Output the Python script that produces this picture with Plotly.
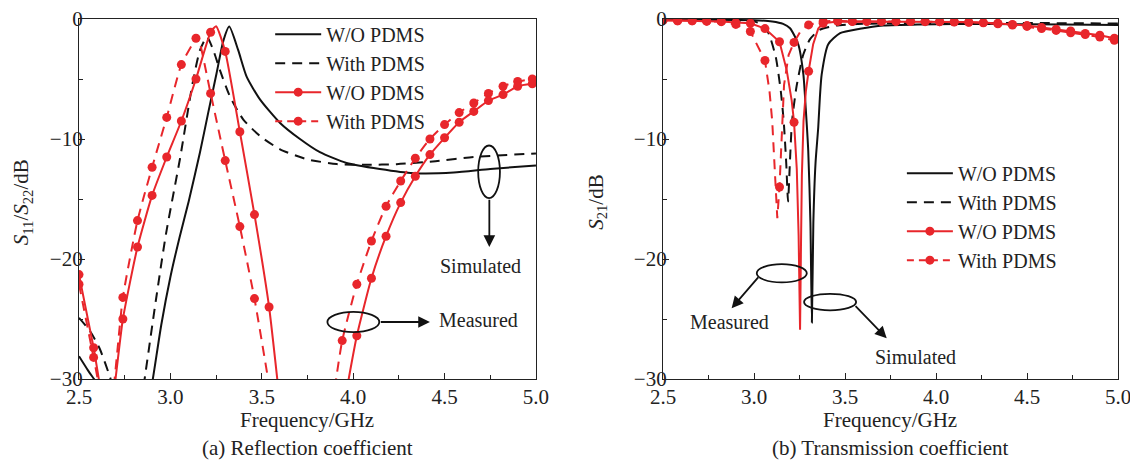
import plotly.graph_objects as go

# ---------------- data ----------------
# marker grid of the measured curves (GHz)
meas_f = [2.50, 2.58, 2.66, 2.74, 2.82, 2.90, 2.98, 3.06, 3.14, 3.22, 3.30, 3.38,
          3.46, 3.54, 3.62, 3.70, 3.78, 3.86, 3.94, 4.02, 4.10, 4.18, 4.26, 4.34,
          4.42, 4.50, 4.58, 4.66, 4.74, 4.82, 4.90, 4.98]

# (a) reflection coefficient, simulated
a_sim_wo_f = [2.50, 2.55, 2.60, 2.62, None, 2.88, 2.904, 2.95, 3.00, 3.05, 3.10, 3.162, 3.207, 3.253,
              3.29, 3.322, 3.371, 3.417, 3.49, 3.60, 3.709, 3.818, 3.964, 4.146, 4.33, 4.55, 4.75, 5.00]
a_sim_wo_db = [-28.1, -29.3, -30.4, -31.0, None, -32.0, -30.0, -25.5, -21.5, -18.2, -15.2, -11.1, -7.8, -4.5,
               -1.8, -0.63, -2.6, -4.8, -6.7, -8.66, -10.0, -11.1, -12.0, -12.5, -12.85, -12.8, -12.5, -12.2]
a_sim_w_f = [2.50, 2.56, 2.614, 2.673, 2.70, None, 2.84, 2.859, 2.92, 2.976, 3.053, 3.122, 3.162,
             3.20, 3.235, 3.271, 3.326, 3.399, 3.49, 3.60, 3.745, 3.91, 4.074, 4.238, 4.45, 4.66, 5.00]
a_sim_w_db = [-24.9, -26.0, -27.5, -30.0, -31.5, None, -32.0, -30.0, -23.5, -17.9, -11.6, -5.3, -2.6,
              -1.5, -2.6, -4.26, -6.46, -8.38, -9.75, -10.86, -11.68, -12.09, -12.15, -12.1, -11.85, -11.5, -11.2]

# (a) reflection coefficient, measured (values at meas_f, None = off the axis)
a_meas_wo_db = [-21.3, -27.4, -34.0, -25.0, -19.0, -14.7, -11.5, -8.5, -5.0, -1.1, -2.7, -9.4,
                -16.3, -24.0, -35.0, None, None, None, -33.0, -26.4, -21.6, -18.1, -15.3, -13.1,
                -11.3, -9.9, -8.6, -7.7, -6.8, -6.3, -5.6, -5.4]
a_meas_w_db = [-22.1, -28.2, -34.0, -23.2, -16.8, -12.35, -8.2, -3.8, -1.6, -6.2, -11.8, -17.3,
               -23.3, -30.5, None, None, None, -35.0, -26.8, -22.1, -18.5, -15.6, -13.5, -11.6,
               -10.0, -8.8, -7.8, -7.0, -6.2, -5.6, -5.2, -5.0]
# extra line points between markers (peaks)
a_meas_wo_extra_f = [3.25]
a_meas_wo_extra_db = [-0.6]
a_meas_w_extra_f = [3.15]
a_meas_w_extra_db = [-1.4]

# (b) transmission coefficient, simulated
b_sim_wo_f = [2.50, 2.90, 3.00, 3.10, 3.16, 3.198, 3.243, 3.271, 3.284, 3.298, 3.31, 3.318,
              3.326, 3.338, 3.353, 3.362, 3.372, 3.408, 3.473, 3.582, 3.71, 3.90, 4.30, 4.70, 5.00]
b_sim_wo_db = [-0.05, -0.08, -0.1, -0.2, -0.4, -0.77, -2.1, -4.6, -7.4, -11.0, -17.0, -25.3,
               -17.0, -12.0, -9.0, -6.5, -4.6, -2.1, -1.18, -0.82, -0.55, -0.45, -0.42, -0.45, -0.5]
b_sim_w_f = [2.50, 2.90, 3.00, 3.06, 3.09, 3.12, 3.147, 3.163, 3.177, 3.187, 3.197, 3.209,
             3.234, 3.27, 3.307, 3.36, 3.45, 3.60, 4.00, 4.50, 5.00]
b_sim_w_db = [-0.05, -0.1, -0.2, -0.6, -1.6, -3.2, -6.0, -8.5, -12.0, -15.2, -12.0, -8.5,
              -5.6, -3.0, -1.7, -0.9, -0.55, -0.4, -0.33, -0.33, -0.38]

# (b) transmission coefficient, measured (values at meas_f)
b_meas_wo_db = [-0.1, -0.15, -0.15, -0.18, -0.2, -0.3, -0.35, -0.8, -1.9, -8.6, -4.35, -0.35,
                -0.2, -0.2, -0.2, -0.2, -0.2, -0.2, -0.2, -0.22, -0.22, -0.25, -0.3, -0.35,
                -0.45, -0.55, -0.7, -0.85, -1.0, -1.2, -1.35, -1.6]
b_meas_w_db = [-0.1, -0.15, -0.15, -0.18, -0.22, -0.45, -1.04, -3.46, -14.0, -1.95, -0.49, -0.2,
               -0.15, -0.2, -0.2, -0.2, -0.2, -0.2, -0.22, -0.22, -0.25, -0.28, -0.32, -0.4,
               -0.5, -0.62, -0.8, -0.95, -1.15, -1.3, -1.5, -1.78]
b_meas_wo_extra_f = [3.18, 3.207, 3.235, 3.245, 3.253, 3.258, 3.263, 3.272, 3.285, 3.325, 3.353]
b_meas_wo_extra_db = [-4.3, -6.8, -12.5, -18.0, -25.9, -19.0, -13.0, -8.5, -6.0, -2.1, -0.8]
b_meas_w_extra_f = [3.085, 3.10, 3.108, 3.12, 3.128, 3.148, 3.152, 3.165, 3.19, 3.26]
b_meas_w_extra_db = [-6.0, -8.5, -11.0, -14.0, -16.6, -11.0, -9.0, -5.5, -3.0, -0.9]

legend_names = ["W/O PDMS", "With PDMS", "W/O PDMS", "With PDMS"]
captions = ["(a) Reflection coefficient", "(b) Transmission coefficient"]
x_title = "Frequency/GHz"
y_titles = ["<i>S</i><sub>11</sub>/<i>S</i><sub>22</sub>/dB", "<i>S</i><sub>21</sub>/dB"]

# ---------------- style ----------------
RED = "#e8262b"
BLACK = "#111111"
FONT = "Liberation Serif"
DASH = "10px,7px"
LW = 2.0
MS = 9


def merged(fs, vs, ef, ev):
    pts = sorted(list(zip(fs, vs)) + list(zip(ef, ev)), key=lambda p: p[0])
    return [p[0] for p in pts], [p[1] for p in pts]


fig = go.Figure()

panels = [
    ("x", "y", "legend", a_sim_wo_f, a_sim_wo_db, a_sim_w_f, a_sim_w_db,
     a_meas_wo_db, a_meas_w_db, a_meas_wo_extra_f, a_meas_wo_extra_db,
     a_meas_w_extra_f, a_meas_w_extra_db, "spline"),
    ("x2", "y2", "legend2", b_sim_wo_f, b_sim_wo_db, b_sim_w_f, b_sim_w_db,
     b_meas_wo_db, b_meas_w_db, b_meas_wo_extra_f, b_meas_wo_extra_db,
     b_meas_w_extra_f, b_meas_w_extra_db, "linear"),
]

for (xa, ya, lg, swf, swd, sf, sd, mwo, mw, ewf, ewd, ef, ed, shape) in panels:
    # simulated
    fig.add_trace(go.Scatter(x=swf, y=swd, mode="lines", xaxis=xa, yaxis=ya,
                             line=dict(color=BLACK, width=LW, shape="spline", smoothing=0.6),
                             showlegend=False, hoverinfo="skip"))
    fig.add_trace(go.Scatter(x=sf, y=sd, mode="lines", xaxis=xa, yaxis=ya,
                             line=dict(color=BLACK, width=LW, dash=DASH, shape="spline", smoothing=0.6),
                             showlegend=False, hoverinfo="skip"))
    # measured lines + markers
    for vals, exf, exd, dash in [(mw, ef, ed, DASH), (mwo, ewf, ewd, "solid")]:
        lx, ly = merged(meas_f, vals, exf, exd)
        fig.add_trace(go.Scatter(x=lx, y=ly, mode="lines", xaxis=xa, yaxis=ya,
                                 line=dict(color=RED, width=LW, dash=dash, shape=shape, smoothing=0.5),
                                 connectgaps=False, showlegend=False, hoverinfo="skip"))
        fig.add_trace(go.Scatter(x=meas_f, y=vals, mode="markers", xaxis=xa, yaxis=ya,
                                 marker=dict(color=RED, size=MS), showlegend=False, hoverinfo="skip"))
    # legend entries
    styles = [
        dict(mode="lines", line=dict(color=BLACK, width=LW)),
        dict(mode="lines", line=dict(color=BLACK, width=LW, dash=DASH)),
        dict(mode="lines+markers", line=dict(color=RED, width=LW), marker=dict(color=RED, size=MS)),
        dict(mode="lines+markers", line=dict(color=RED, width=LW, dash="7px,5px"), marker=dict(color=RED, size=MS)),
    ]
    for name, st in zip(legend_names, styles):
        fig.add_trace(go.Scatter(x=[None], y=[None], name=name, xaxis=xa, yaxis=ya,
                                 legend=lg, showlegend=True, **st))

axis_common = dict(showline=True, linecolor="#222", linewidth=1.3, mirror=True,
                   ticks="inside", ticklen=6, tickwidth=1.3, tickcolor="#222",
                   showgrid=False, zeroline=False, automargin=False, ticklabeloverflow="allow",
                   tickfont=dict(family=FONT, size=21, color="#222"))
xcommon = dict(axis_common, range=[2.5, 5.0], tick0=2.5, dtick=0.5, tickformat=".1f",
               ticklabelstandoff=-1,
               minor=dict(ticks="inside", ticklen=4, tickwidth=1.3, tickcolor="#222", dtick=0.25, tick0=2.5))
ycommon = dict(axis_common, range=[-30, 0], tick0=0, dtick=10, ticklabelstandoff=-9,
               minor=dict(ticks="inside", ticklen=4, tickwidth=1.3, tickcolor="#222", dtick=5, tick0=0))

# page body has an 8px default margin: size the figure so it fits the window
fig.update_layout(
    width=1130, height=455,
    margin=dict(l=71, r=20, t=7, b=84),
    paper_bgcolor="white", plot_bgcolor="white",
    xaxis=dict(xcommon, domain=[0, 0.4398], anchor="y"),
    yaxis=dict(ycommon, domain=[0, 1], anchor="x"),
    xaxis2=dict(xcommon, domain=[0.5621, 1], anchor="y2"),
    yaxis2=dict(ycommon, domain=[0, 1], anchor="x2"),
    legend=dict(x=0.184, y=0.837, xanchor="left", yanchor="middle", bgcolor="rgba(0,0,0,0)",
                font=dict(family=FONT, size=20, color="#222"), itemwidth=46, tracegroupgap=0),
    legend2=dict(x=0.792, y=0.451, xanchor="left", yanchor="middle", bgcolor="rgba(0,0,0,0)",
                 font=dict(family=FONT, size=20, color="#222"), itemwidth=46, tracegroupgap=0),
    showlegend=True,
)

ann_font = dict(family=FONT, size=20, color="#222")
annotations = []
shapes = []

# axis titles and captions
for i, (xc, yt_x) in enumerate([(0.2199, -0.0545), (0.781, 0.4985)]):
    annotations.append(dict(text=x_title, xref="paper", yref="paper", x=xc, y=-0.1126,
                            showarrow=False, font=dict(family=FONT, size=21, color="#222"),
                            xanchor="center", yanchor="middle"))
    annotations.append(dict(text=captions[i], xref="paper", yref="paper", x=xc, y=-0.1923,
                            showarrow=False, font=dict(family=FONT, size=21, color="#222"),
                            xanchor="center", yanchor="middle"))
    annotations.append(dict(text=y_titles[i], xref="paper", yref="paper", x=yt_x, y=0.492,
                            textangle=-90, showarrow=False, font=dict(family=FONT, size=21, color="#222"),
                            xanchor="center", yanchor="middle"))

# callout ellipses: (xref, yref, f0, f1, v0, v1)
ellipses = [("x", "y", 4.684, 4.803, -14.93, -10.54),
            ("x", "y", 3.859, 4.143, -26.1, -24.4),
            ("x2", "y2", 3.015, 3.29, -21.95, -20.43),
            ("x2", "y2", 3.275, 3.561, -24.28, -22.9)]
for xr, yr, f0, f1, v0, v1 in ellipses:
    shapes.append(dict(type="circle", xref=xr, yref=yr, x0=f0, x1=f1, y0=v0, y1=v1,
                       line=dict(color=BLACK, width=1.8)))

# arrows: (xref, yref, tail_f, tail_v, tip_f, tip_v)
arrows = [("x", "y", 4.745, -14.93, 4.745, -19.0),
          ("x", "y", 4.143, -25.25, 4.42, -25.25),
          ("x2", "y2", 3.03, -21.4, 2.877, -24.1),
          ("x2", "y2", 3.55, -23.8, 3.729, -26.6)]
for xr, yr, tf, tv, hf, hv in arrows:
    annotations.append(dict(text="", xref=xr, yref=yr, x=hf, y=hv, axref=xr, ayref=yr, ax=tf, ay=tv,
                            showarrow=True, arrowhead=2, arrowsize=1.3, arrowwidth=1.8,
                            arrowcolor=BLACK, standoff=0, startstandoff=0))

# callout texts
texts = [("x", "y", 4.695, -20.55, "Simulated", "center"),
         ("x", "y", 4.46, -25.1, "Measured", "left"),
         ("x2", "y2", 2.867, -25.25, "Measured", "center"),
         ("x2", "y2", 3.889, -28.19, "Simulated", "center")]
for xr, yr, f, v, t, anc in texts:
    annotations.append(dict(text=t, xref=xr, yref=yr, x=f, y=v, showarrow=False,
                            font=ann_font, xanchor=anc, yanchor="middle"))

fig.update_layout(annotations=annotations, shapes=shapes)
fig.write_html("out.html")
